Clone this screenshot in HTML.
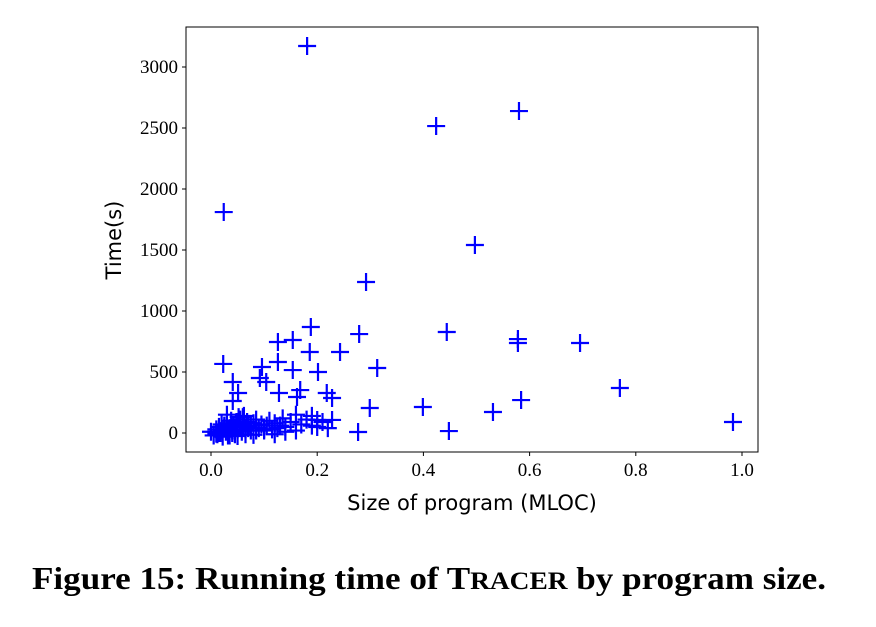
<!DOCTYPE html>
<html><head><meta charset="utf-8"><style>
body{margin:0;background:#fff;width:876px;height:622px;overflow:hidden}
svg text{fill:#000}
</style></head><body>
<svg width="876" height="622">
<rect x="186" y="27" width="572" height="425" fill="none" stroke="#000" stroke-width="1"/>
<g id="ticks"></g>
<g id="marks"></g>
<text x="472" y="510" font-family="'DejaVu Sans','Liberation Sans',sans-serif" font-size="21" text-anchor="middle">Size of program (MLOC)</text>
<text transform="translate(121,240) rotate(-90)" font-family="'DejaVu Sans','Liberation Sans',sans-serif" font-size="21" text-anchor="middle">Time(s)</text>
<text x="32" y="589" font-family="'Liberation Serif',serif" font-size="32" font-weight="bold" textLength="794" lengthAdjust="spacingAndGlyphs">Figure 15: Running time of T<tspan font-size="25">RACER</tspan> by program size.</text>
</svg>
<script>
const xTicks=[0,0.2,0.4,0.6,0.8,1.0];
const xTickLabels=["0.0","0.2","0.4","0.6","0.8","1.0"];
const yTicks=[0,500,1000,1500,2000,2500,3000];
const yTickLabels=["0","500","1000","1500","2000","2500","3000"];
const sizes=[0.181,0.024,0.424,0.58,0.497,0.292,0.444,0.578,0.578,0.695,0.77,0.983,0.399,0.531,0.584,0.448,
0.188,0.279,0.126,0.154,0.186,0.243,0.023,0.096,0.126,0.154,0.2015,0.313,0.041,0.092,0.104,0.051,0.041,0.128,0.162,0.168,0.218,0.228,0.299,0.277,0.228,0.2,0.2,
0.0,0.005,0.01,0.012,0.015,0.018,0.02,0.022,0.025,0.028,0.03,0.032,0.035,0.038,0.04,0.042,0.045,0.048,0.05,0.052,0.055,0.058,0.06,0.062,0.065,0.068,0.07,0.075,0.08,0.085,0.09,0.095,0.1,0.105,0.11,0.115,0.12,0.125,0.13,0.135,0.14,0.15,0.16,0.17,0.18,0.19,0.21,0.015,0.025,0.035,0.045,0.055,0.065,0.075,0.085,0.03,0.05,0.07,0.01,0.02,0.04,0.06,0.08,0.1,0.12,0.14,0.16,0.22,0.19];
const times=[3172,1811,2516,2639,1541,1238,828,770,738,738,369,90,213,172,270,16,
869,811,746,762,664,664,566,541,582,516,500,533,418,451,418,328,262,328,295,352,328,287,205,8,107,107,49,
10,-20,30,-10,50,0,20,-30,60,10,80,-20,40,100,20,60,-10,90,30,130,50,10,70,140,30,90,50,20,80,110,40,70,20,60,100,30,80,40,60,120,50,90,150,70,110,140,90,0,40,-20,20,110,-10,60,20,150,-25,40,-5,70,0,130,-15,30,-10,10,20,40,60,160];
const X=v=>211+v*531, Y=v=>433-v*0.122;
const NS="http://www.w3.org/2000/svg";
const tg=document.getElementById('ticks'), mg=document.getElementById('marks');
function mk(t,a,p){const e=document.createElementNS(NS,t);for(const k in a)e.setAttribute(k,a[k]);p.appendChild(e);return e;}
xTicks.forEach((v,i)=>{
 const l=mk('line',{x1:X(v),x2:X(v),y1:452,y2:456,stroke:'#000'},tg);
 
 
 const t=mk('text',{x:X(v),y:476,'font-family':"'Liberation Serif',serif",'font-size':19,'text-anchor':'middle'},tg);
 t.textContent=xTickLabels[i];
 
 
});
yTicks.forEach((v,i)=>{
 const l=mk('line',{x1:182,x2:186,y1:Y(v),y2:Y(v),stroke:'#000'},tg);
 
 
 const t=mk('text',{x:178,y:Y(v)+6,'font-family':"'Liberation Serif',serif",'font-size':19,'text-anchor':'end'},tg);
 t.textContent=yTickLabels[i];
 
 
});
sizes.forEach((s,i)=>{
 const x=X(s),y=Y(times[i]);
 const p=mk('path',{d:`M${x-9},${y}H${x+9}M${x},${y-9}V${y+9}`,stroke:'#0000ff','stroke-width':2.2,fill:'none'},mg);
 
 
});
</script>
</body></html>
